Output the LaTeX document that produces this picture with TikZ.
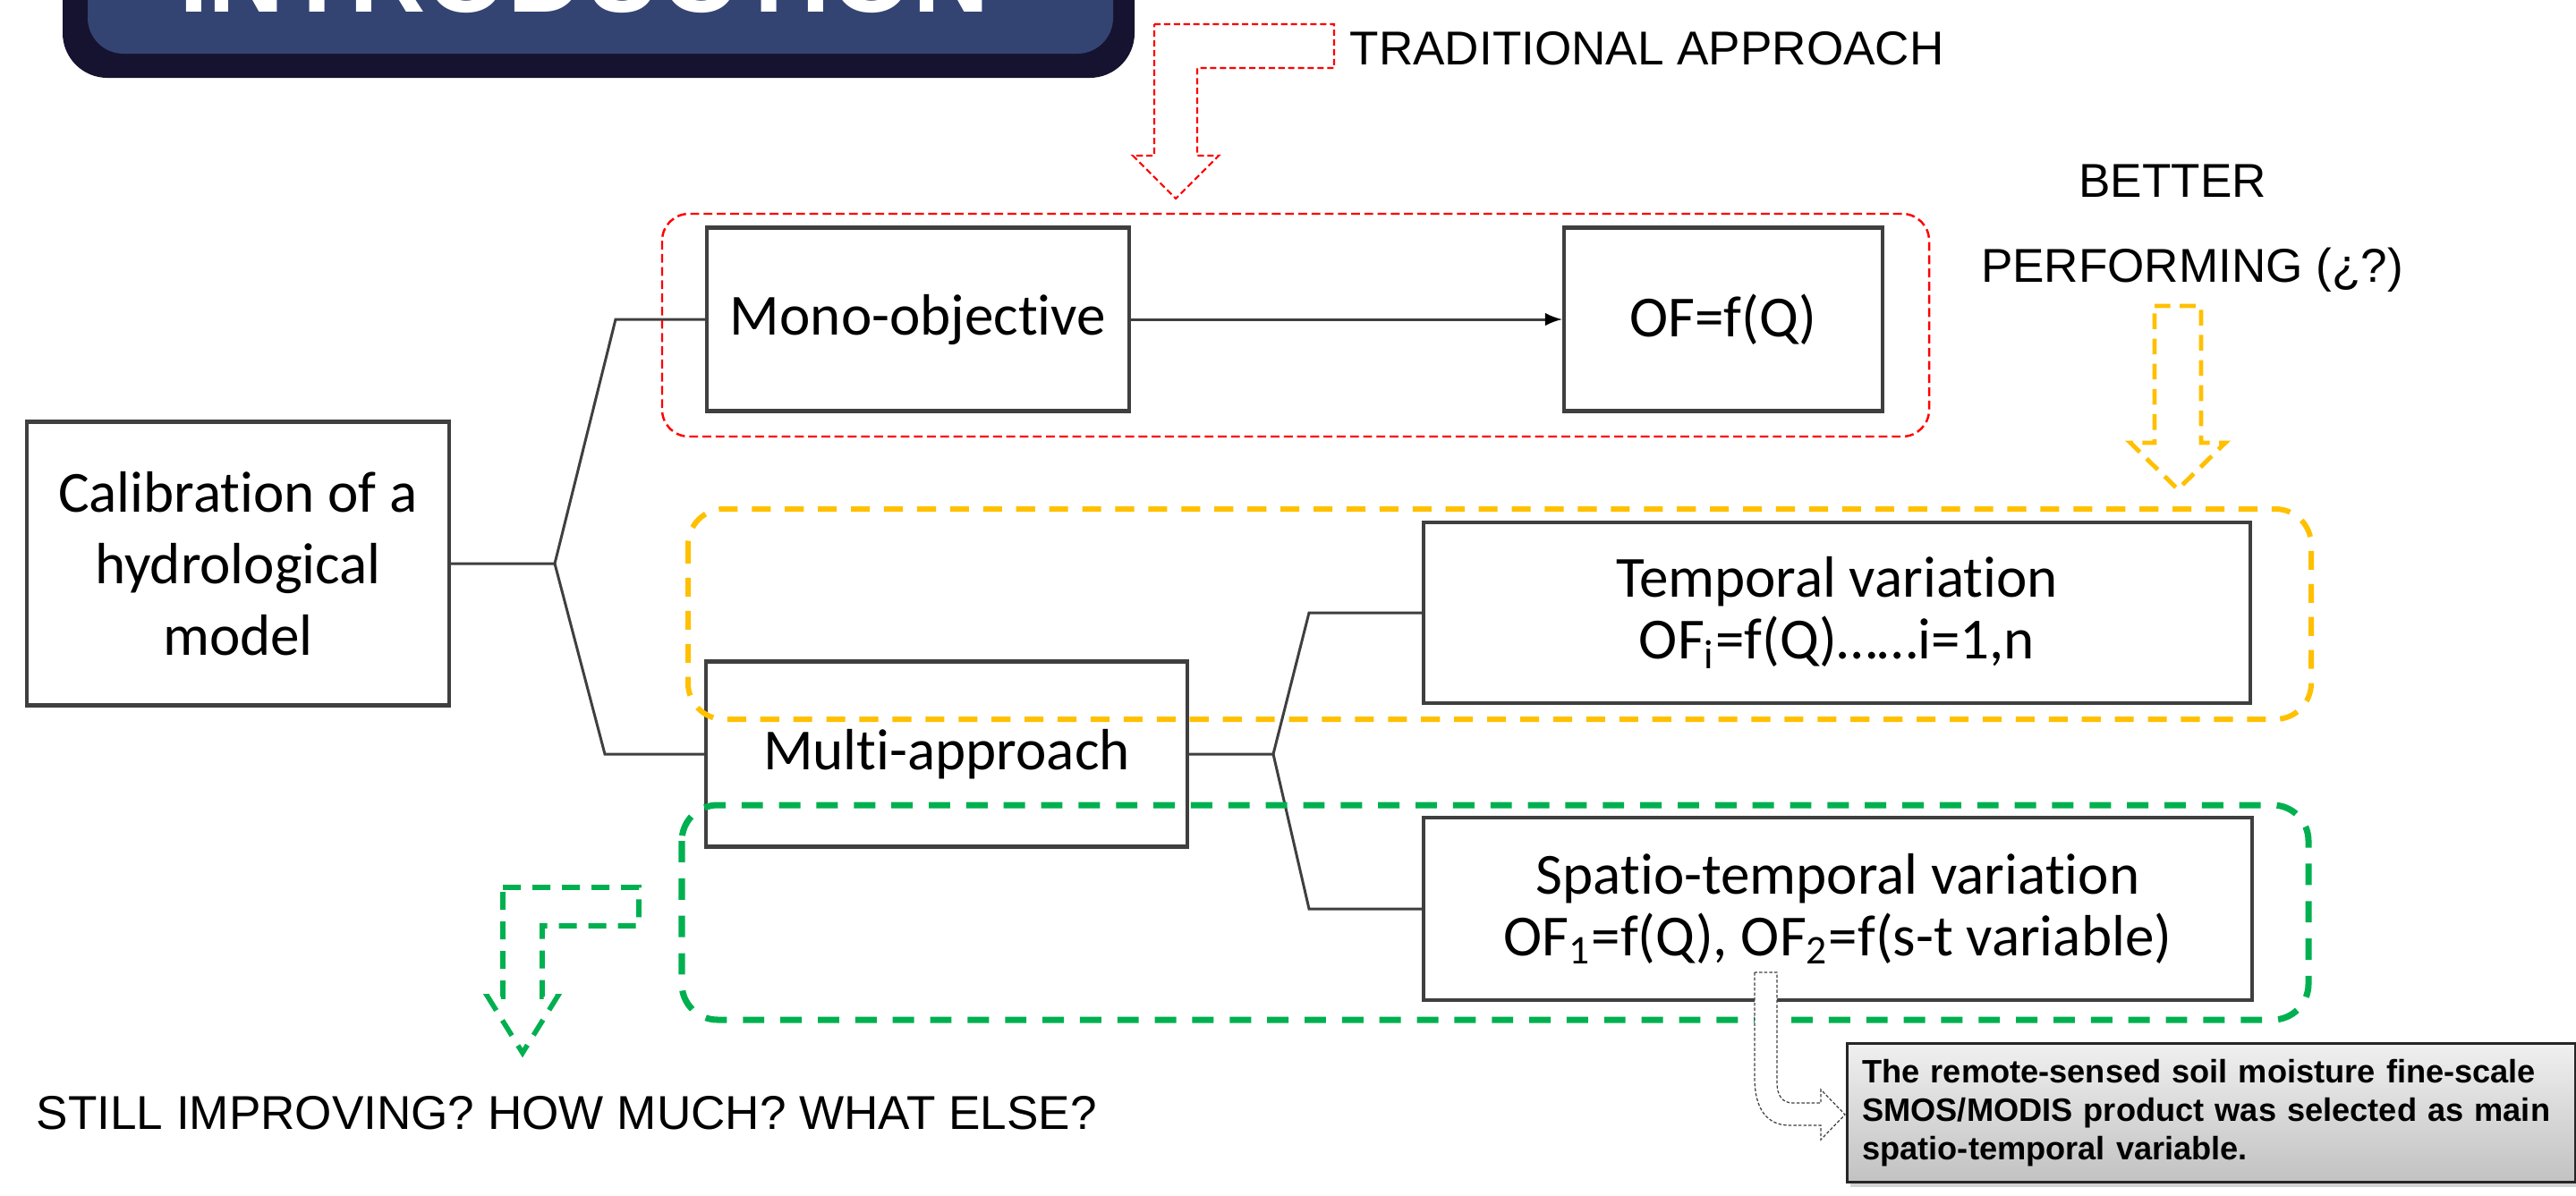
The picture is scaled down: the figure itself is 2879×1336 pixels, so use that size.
\documentclass[tikz,border=0pt]{standalone}
\usepackage{fontspec}
\setmainfont{Carlito}[Ligatures=NoCommon]
\newfontfamily\arialtext{Liberation Sans}
\usepackage{tikz}
\usetikzlibrary{arrows,shadows}
\definecolor{bannerdark}{HTML}{161330}
\definecolor{bannerblue}{HTML}{334473}
\definecolor{boxgray}{HTML}{3F3F3F}
\definecolor{tradred}{HTML}{FF0000}
\definecolor{betteryellow}{HTML}{FFC000}
\definecolor{stillgreen}{HTML}{00B050}
\tikzset{
  block/.style={rectangle,draw=boxgray,line width=1.2pt,fill=white,inner sep=0pt,align=center,
    font=\fontsize{18.5}{22.8}\selectfont},
  link/.style={draw=boxgray,line width=0.85pt},
  group/.style={rounded corners=0.4cm},
  hollow/.style={line join=miter},
  remark/.style={font=\arialtext\fontsize{15.1}{18}\selectfont,inner sep=0pt},
  notebox/.style={rectangle,draw=black!85,line width=0.7pt,top color=gray!12,bottom color=gray!48,
    minimum width=8.13cm,minimum height=1.55cm,text width=7.79cm,inner sep=0.17cm,align=left,
    font=\arialtext\bfseries\fontsize{10.3}{12.3}\selectfont,
    drop shadow={shadow xshift=1pt,shadow yshift=-1.5pt,opacity=0.35}},
  pointer/.style={draw=black!75,fill=white,line width=0.35pt,dash pattern=on 1pt off 0.6pt},
}

\begin{document}
\begin{tikzpicture}[x=0.01cm,y=-0.01cm]
\useasboundingbox (0,0) rectangle (2879,1336);
% title banner, cut by the top edge
\fill[bannerdark,rounded corners=0.5cm] (70,-150) rectangle (1268,87);
\fill[bannerblue,rounded corners=0.4cm] (98,-150) rectangle (1244,60);
\node (intro) [anchor=base,text=white,inner sep=0pt,font=\arialtext\bfseries\fontsize{33.6}{40}\selectfont] at (653,13) {INTRODUCTION};
%
\node (calib) [block,minimum width=4.71cm,minimum height=3.17cm] at (266,630) {Calibration of a\\hydrological\\model};
\node (mono) [block,minimum width=4.71cm,minimum height=2.05cm] at (1026,357) {Mono-objective};
\node (of) [block,minimum width=3.56cm,minimum height=2.05cm] at (1926,357) {OF=f(Q)};
\node (multi) [block,minimum width=5.37cm,minimum height=2.07cm] at (1058,843) {Multi-approach};
\node (temp) [block,minimum width=9.23cm,minimum height=2.02cm,font=\fontsize{18.5}{19.6}\selectfont] at (2053,685) {Temporal variation\\OF\textsubscript{i}=f(Q)……i=1,n};
\node (spat) [block,minimum width=9.25cm,minimum height=2.04cm,font=\fontsize{18.5}{19.8}\selectfont] at (2054,1016) {Spatio-temporal variation\\OF\textsubscript{1}=f(Q), OF\textsubscript{2}=f(s-t variable)};
%
\coordinate (j1) at (620,630);
\coordinate (b1) at (688,357);
\coordinate (b2) at (676,843);
\coordinate (j2) at (1423,843);
\coordinate (b3) at (1463,685);
\coordinate (b4) at (1463,1016);
\draw[link] (calib.east) -- (j1) -- (b1) -- (mono.west);
\draw[link] (j1) -- (b2) -- (multi.west);
\draw[link] (multi.east) -- (j2) -- (b3) -- (temp.west);
\draw[link] (j2) -- (b4) -- (spat.west);
\path[-latex,link] (mono) edge (of);
%
\draw[group,tradred,line width=0.7pt,dash pattern=on 2.8pt off 1.4pt,rounded corners=0.3cm] (740,239) rectangle (2156,488);
\draw[group,betteryellow,line width=1.7pt,dash pattern=on 6pt off 4.5pt] (769,569) rectangle (2583,804);
\draw[group,stillgreen,line width=2pt,dash pattern=on 6.8pt off 5.1pt] (762,900) rectangle (2580,1140);
%
\draw[hollow,tradred,line width=0.6pt,dash pattern=on 2pt off 1.1pt] (1290,27) -- (1491,27) -- (1491,76) -- (1338,76) -- (1338,174) -- (1362,174) -- (1314,222) -- (1266,174) -- (1290,174) -- cycle;
\draw[hollow,betteryellow,line width=1.4pt,dash pattern=on 5pt off 3pt] (2408,342) -- (2460,342) -- (2460,495) -- (2487,495) -- (2434,547) -- (2381,495) -- (2408,495) -- cycle;
\draw[hollow,stillgreen,line width=1.6pt,dash pattern=on 5.7pt off 3.7pt] (562,992) -- (714,992) -- (714,1035) -- (606,1035) -- (606,1114) -- (623,1114) -- (584,1177) -- (545,1114) -- (562,1114) -- cycle;
%
\node (trad) [remark,anchor=base west] at (1508,72) {TRADITIONAL APPROACH};
\node (better) [remark,anchor=base] at (2428,220) {BETTER};
\node (perf) [remark,anchor=base] at (2450,315) {PERFORMING (¿?)};
\node (still) [remark,anchor=base west] at (40,1262) {STILL IMPROVING? HOW MUCH? WHAT ELSE?};
%
\coordinate (tip) at (2062,1246);
\draw[pointer] (1961,1087) -- (1961,1205) .. controls (1961,1240) and (1975,1258) .. (2000,1258) -- (2035,1258) -- (2035,1274) -- (tip) -- (2035,1218) -- (2035,1233) -- (2004,1233) .. controls (1992,1233) and (1986,1225) .. (1986,1210) -- (1986,1087) -- cycle;
\node (note) [notebox] at (2471,1244) {The remote-sensed soil moisture fine-scale\\SMOS/MODIS product was selected as main\\spatio-temporal variable.};
\end{tikzpicture}
\end{document}
